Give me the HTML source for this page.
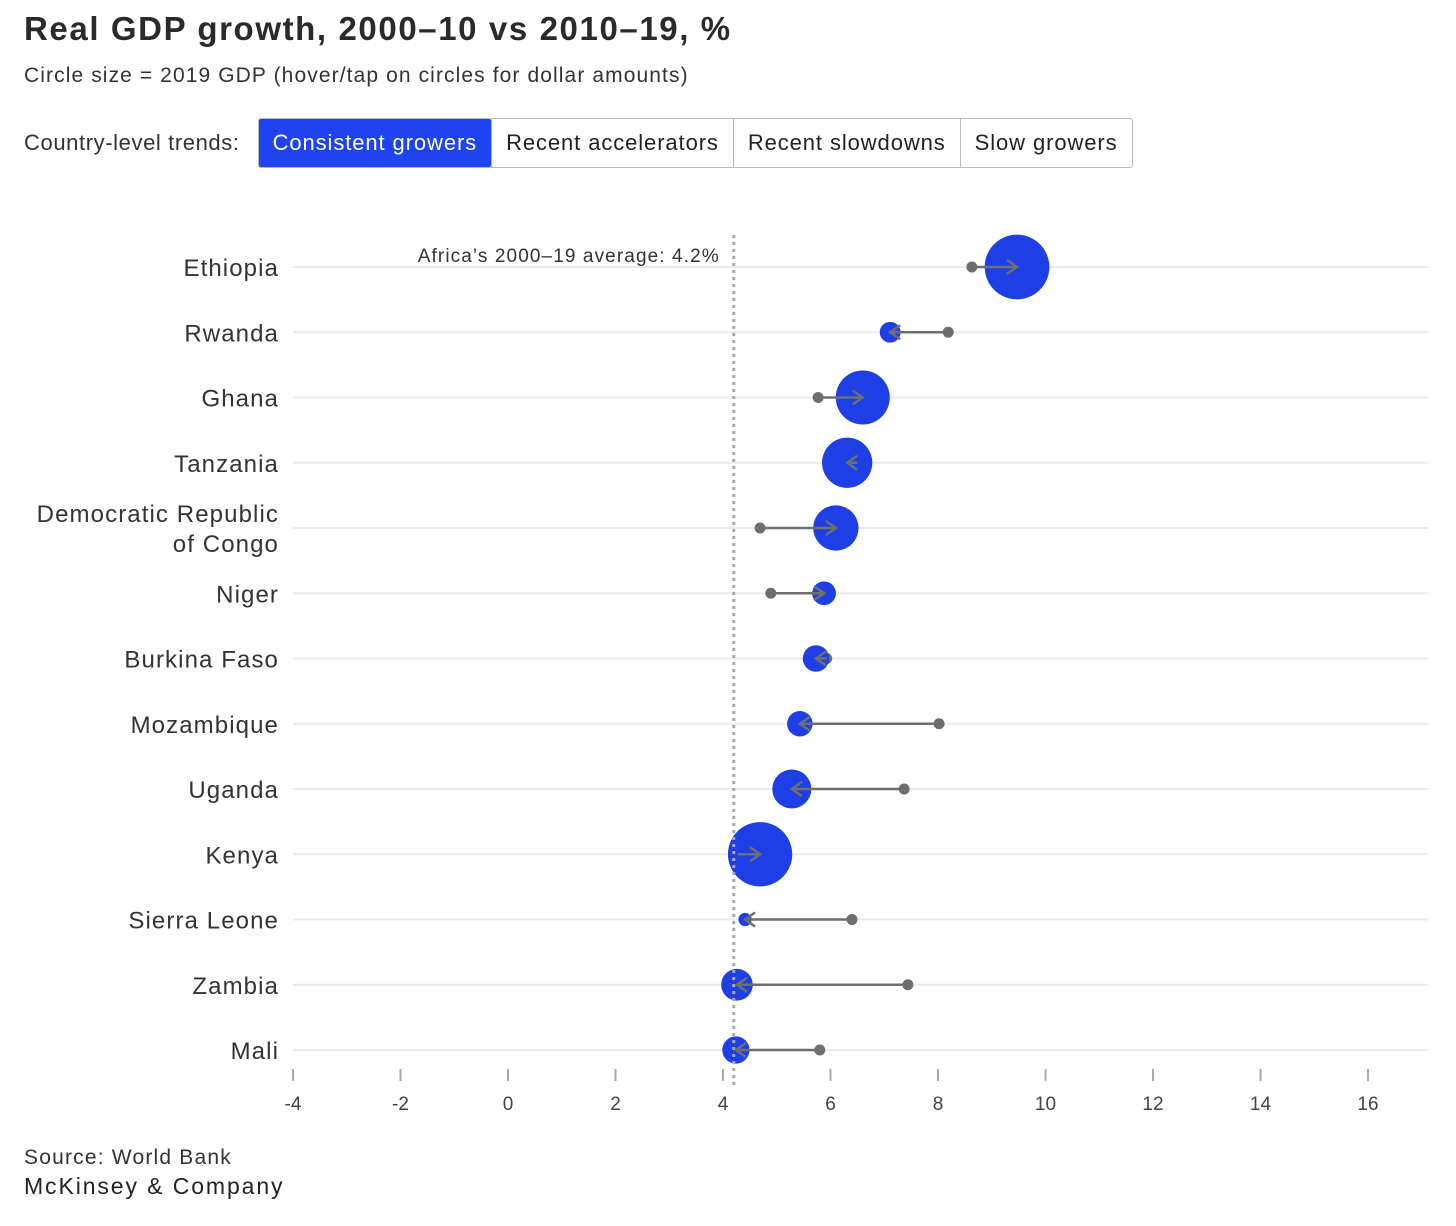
<!DOCTYPE html>
<html><head><meta charset="utf-8"><style>
body{margin:0;background:#fff;font-family:"Liberation Sans",sans-serif;color:#222;}
.wrap{position:relative;width:1456px;height:1226px;overflow:hidden}
h1{position:absolute;left:24px;top:10px;margin:0;font-size:33px;font-weight:bold;color:#2a2a2a;letter-spacing:1.6px}
.sub{position:absolute;left:24px;top:64px;font-size:21px;color:#333;letter-spacing:1.1px}
.trends{position:absolute;left:24px;top:118px;height:50px;display:flex;align-items:center;font-size:22px;color:#333;letter-spacing:0.6px}
.btns{display:flex;margin-left:18px;border:1px solid #bbb;border-radius:3px;height:48px}
.btn{padding:0 14px;display:flex;align-items:center;border-left:1px solid #bbb;font-size:22px;color:#222;letter-spacing:0.9px}
.btn:first-child{border-left:none;background:#1f43f0;color:#fff;border-radius:2px}
.src{position:absolute;left:24px;top:1146px;font-size:21px;color:#333;letter-spacing:1.2px}
.mck{position:absolute;left:24px;top:1173px;font-size:23px;color:#222;letter-spacing:1.9px}
</style></head><body><div class="wrap">
<h1>Real GDP growth, 2000–10 vs 2010–19, %</h1>
<div class="sub">Circle size = 2019 GDP (hover/tap on circles for dollar amounts)</div>
<div class="trends">Country-level trends:
<div class="btns">
<div class="btn">Consistent growers</div>
<div class="btn">Recent accelerators</div>
<div class="btn">Recent slowdowns</div>
<div class="btn">Slow growers</div>
</div></div>
<svg id="chart" width="1456" height="1226" style="position:absolute;left:0;top:0"></svg>
<div class="src">Source: World Bank</div>
<div class="mck">McKinsey &amp; Company</div>
</div>
<script>
const countries=["Ethiopia","Rwanda","Ghana","Tanzania","Democratic Republic|of Congo","Niger","Burkina Faso","Mozambique","Uganda","Kenya","Sierra Leone","Zambia","Mali"];
const growth2000s=[8.63,8.19,5.77,6.5,4.69,4.89,5.93,8.02,7.37,4.28,6.4,7.44,5.8];
const growth2010s=[9.47,7.11,6.6,6.31,6.1,5.88,5.73,5.43,5.28,4.69,4.41,4.26,4.24];
const gdp2019=[96,10,67,58,47,13,16,15,35,95,4,23,17];
const xTicks=[-4,-2,0,2,4,6,8,10,12,14,16];
const africaAvg=4.2;
const svg=document.getElementById('chart');const NS="http://www.w3.org/2000/svg";
const X=v=>508+v*53.75;const Y=i=>267+i*65.25;const R=g=>Math.sqrt(g)*3.3;
function mk(t,a,p){const e=document.createElementNS(NS,t);for(const k in a)e.setAttribute(k,a[k]);(p||svg).appendChild(e);return e;}
countries.forEach((c,i)=>{
 const g=mk('line',{x1:293,x2:1428,y1:Y(i),y2:Y(i),stroke:'#ebebeb','stroke-width':2});
 
 
 const parts=c.split('|');
 const t=mk('text',{x:279,y:Y(i)+9-(parts.length-1)*15,'text-anchor':'end','font-size':24,'letter-spacing':1.1,fill:'#333','font-family':'Liberation Sans, sans-serif'});
 
 
 parts.forEach((p,k)=>{const s=mk('tspan',{x:279,dy:k?30:0},t);s.textContent=p;});
});
xTicks.forEach(v=>{
 const l=mk('line',{x1:X(v),x2:X(v),y1:1069,y2:1081,stroke:'#aaa','stroke-width':2});
 
 
 const t=mk('text',{x:X(v),y:1110,'text-anchor':'middle','font-size':19,fill:'#444','font-family':'Liberation Sans, sans-serif'});
 
 
 t.textContent=v;
});
countries.forEach((c,i)=>{
 const d=mk('circle',{cx:X(growth2000s[i]),cy:Y(i),r:5.5,fill:'#6e6e6e'});
 
 
 const b=mk('circle',{cx:X(growth2010s[i]),cy:Y(i),r:R(gdp2019[i]),fill:'#1f3fe6'});
 
 
});
const avgLine=mk('line',{x1:X(africaAvg),x2:X(africaAvg),y1:235,y2:1085,stroke:'#aaa','stroke-width':3,'stroke-dasharray':'3 4'});


const at=mk('text',{x:X(africaAvg)-14,y:262,'text-anchor':'end','font-size':19,'letter-spacing':1.1,fill:'#333','font-family':'Liberation Sans, sans-serif'});


at.textContent="Africa’s 2000–19 average: 4.2%";
countries.forEach((c,i)=>{
 const x1=X(growth2000s[i]),x2=X(growth2010s[i]),y=Y(i);const dir=x2>x1?1:-1;
 const l=mk('line',{x1:x1,x2:x2,y1:y,y2:y,stroke:'#6e6e6e','stroke-width':2.5});
 
 
 const h=mk('polyline',{points:`${x2-dir*10},${y-7} ${x2},${y} ${x2-dir*10},${y+7}`,fill:'none',stroke:'#6e6e6e','stroke-width':2.5});
 
 
});
</script></body></html>
